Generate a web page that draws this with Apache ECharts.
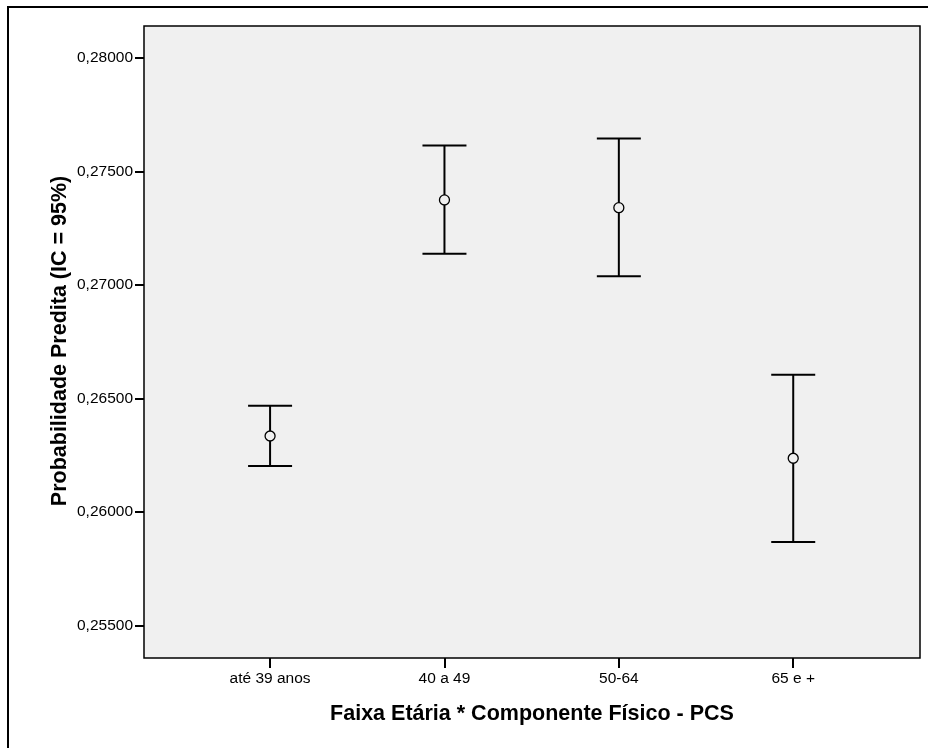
<!DOCTYPE html>
<html>
<head>
<meta charset="utf-8">
<script src="https://cdn.jsdelivr.net/npm/echarts@6/dist/echarts.min.js"></script>
<style>
html,body{margin:0;padding:0;background:#fff;}
#chart{width:928px;height:748px;}
</style>
</head>
<body>
<div id="chart"></div>
<script>
var categories = ['até 39 anos', '40 a 49', '50-64', '65 e +'];
var means = [0.26335, 0.27374, 0.27340, 0.26237];
var lowerCI = [0.26203, 0.27137, 0.27038, 0.25868];
var upperCI = [0.26468, 0.27613, 0.27644, 0.26605];
var yTicks = [0.255, 0.260, 0.265, 0.270, 0.275, 0.280];

var chart = echarts.init(document.getElementById('chart'));

var errData = categories.map(function (c, i) { return [i, lowerCI[i], upperCI[i]]; });
var meanData = categories.map(function (c, i) { return [i, means[i]]; });

var font = '"Liberation Sans", Arial, sans-serif';

chart.setOption({
  animation: false,
  backgroundColor: '#ffffff',
  grid: {
    left: 144, right: 8, top: 26, bottom: 90,
    show: true, backgroundColor: '#f0f0f0', borderColor: '#000', borderWidth: 1.5,
    containLabel: false
  },
  xAxis: {
    type: 'value',
    min: -0.723, max: 3.727,
    axisLine: { show: false, onZero: false },
    splitLine: { show: false },
    axisTick: { show: true, length: 10, lineStyle: { color: '#000', width: 2 }, customValues: [0, 1, 2, 3] },
    axisLabel: {
      customValues: [0, 1, 2, 3],
      margin: 13,
      color: '#000', fontFamily: font, fontSize: 15.5,
      formatter: function (v) { return categories[Math.round(v)] || ''; }
    }
  },
  yAxis: {
    type: 'value',
    min: 0.253578, max: 0.281395,
    axisLine: { show: false, onZero: false },
    splitLine: { show: false },
    axisTick: { show: true, length: 9, lineStyle: { color: '#000', width: 2 }, customValues: yTicks },
    axisLabel: {
      customValues: yTicks,
      margin: 11,
      color: '#000', fontFamily: font, fontSize: 15.5,
      formatter: function (v) { return v.toFixed(5).replace('.', ','); }
    }
  },
  graphic: [
    {
      type: 'rect', silent: true, z: -10,
      shape: { x: 8, y: 7, width: 940, height: 760 },
      style: { fill: 'none', stroke: '#000', lineWidth: 2 }
    },
    {
      type: 'text', silent: true,
      x: 532, y: 714,
      style: {
        text: 'Faixa Etária * Componente Físico - PCS',
        fontFamily: font, fontSize: 21.5, fontWeight: 'bold', fill: '#000',
        align: 'center', verticalAlign: 'middle'
      }
    },
    {
      type: 'text', silent: true,
      x: 60, y: 341, rotation: Math.PI / 2,
      style: {
        text: 'Probabilidade Predita (IC = 95%)',
        fontFamily: font, fontSize: 21.5, fontWeight: 'bold', fill: '#000',
        align: 'center', verticalAlign: 'middle'
      }
    }
  ],
  series: [
    {
      type: 'custom',
      data: errData,
      renderItem: function (params, api) {
        var lo = api.coord([api.value(0), api.value(1)]);
        var hi = api.coord([api.value(0), api.value(2)]);
        var hw = 22;
        var st = { stroke: '#000', lineWidth: 2 };
        return {
          type: 'group',
          children: [
            { type: 'line', shape: { x1: lo[0], y1: lo[1], x2: hi[0], y2: hi[1] }, style: st },
            { type: 'line', shape: { x1: lo[0] - hw, y1: lo[1], x2: lo[0] + hw, y2: lo[1] }, style: st },
            { type: 'line', shape: { x1: hi[0] - hw, y1: hi[1], x2: hi[0] + hw, y2: hi[1] }, style: st }
          ]
        };
      },
      z: 2
    },
    {
      type: 'scatter',
      data: meanData,
      symbol: 'circle',
      symbolSize: 10,
      itemStyle: { color: '#f0f0f0', borderColor: '#000', borderWidth: 1.3, opacity: 1 },
      z: 3
    }
  ]
});
</script>
</body>
</html>
